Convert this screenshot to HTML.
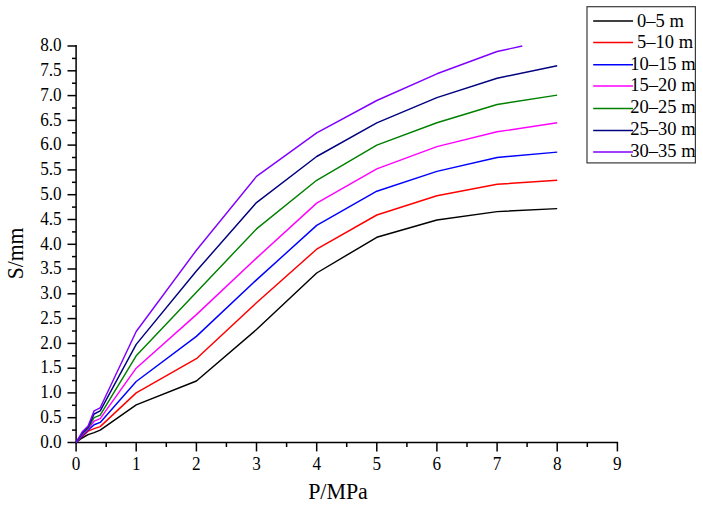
<!DOCTYPE html><html><head><meta charset="utf-8"><style>html,body{margin:0;padding:0;background:#fff;}svg{display:block;}text{font-family:"Liberation Serif",serif;fill:#000;}</style></head><body>
<svg width="703" height="506" viewBox="0 0 703 506">
<rect width="703" height="506" fill="#fff"/>
<g stroke="#000000" stroke-width="1.5" fill="none">
<path d="M76.1 45.1 V443.4"/>
<path d="M75.3 442.5 H618.1"/>
<path d="M67.5 442.5 H76.1"/>
<path d="M72.0 430.1 H76.1"/>
<path d="M67.5 417.7 H76.1"/>
<path d="M72.0 405.3 H76.1"/>
<path d="M67.5 392.9 H76.1"/>
<path d="M72.0 380.6 H76.1"/>
<path d="M67.5 368.2 H76.1"/>
<path d="M72.0 355.8 H76.1"/>
<path d="M67.5 343.4 H76.1"/>
<path d="M72.0 331.0 H76.1"/>
<path d="M67.5 318.6 H76.1"/>
<path d="M72.0 306.2 H76.1"/>
<path d="M67.5 293.8 H76.1"/>
<path d="M72.0 281.4 H76.1"/>
<path d="M67.5 269.0 H76.1"/>
<path d="M72.0 256.6 H76.1"/>
<path d="M67.5 244.3 H76.1"/>
<path d="M72.0 231.9 H76.1"/>
<path d="M67.5 219.5 H76.1"/>
<path d="M72.0 207.1 H76.1"/>
<path d="M67.5 194.7 H76.1"/>
<path d="M72.0 182.3 H76.1"/>
<path d="M67.5 169.9 H76.1"/>
<path d="M72.0 157.5 H76.1"/>
<path d="M67.5 145.1 H76.1"/>
<path d="M72.0 132.8 H76.1"/>
<path d="M67.5 120.4 H76.1"/>
<path d="M72.0 108.0 H76.1"/>
<path d="M67.5 95.6 H76.1"/>
<path d="M72.0 83.2 H76.1"/>
<path d="M67.5 70.8 H76.1"/>
<path d="M72.0 58.4 H76.1"/>
<path d="M67.5 46.0 H76.1"/>
<path d="M76.1 442.5 V451.4"/>
<path d="M106.2 442.5 V447.0"/>
<path d="M136.2 442.5 V451.4"/>
<path d="M166.3 442.5 V447.0"/>
<path d="M196.4 442.5 V451.4"/>
<path d="M226.4 442.5 V447.0"/>
<path d="M256.5 442.5 V451.4"/>
<path d="M286.6 442.5 V447.0"/>
<path d="M316.7 442.5 V451.4"/>
<path d="M346.7 442.5 V447.0"/>
<path d="M376.8 442.5 V451.4"/>
<path d="M406.9 442.5 V447.0"/>
<path d="M436.9 442.5 V451.4"/>
<path d="M467.0 442.5 V447.0"/>
<path d="M497.1 442.5 V451.4"/>
<path d="M527.1 442.5 V447.0"/>
<path d="M557.2 442.5 V451.4"/>
<path d="M587.3 442.5 V447.0"/>
<path d="M617.4 442.5 V451.4"/>
</g>
<g fill="none" stroke-width="1.45" stroke-linejoin="round" stroke-linecap="butt">
<polyline stroke="#000000" points="76.1,442.5 82.1,438.0 88.1,434.6 94.1,432.6 100.2,430.1 136.2,404.8 196.4,381.0 256.5,329.5 316.7,273.0 376.8,237.3 436.9,220.0 497.1,211.6 557.2,208.6"/>
<polyline stroke="#ff0000" points="76.1,442.5 82.1,436.6 88.1,431.1 94.1,428.6 100.2,426.6 136.2,392.9 196.4,358.7 256.5,302.7 316.7,249.2 376.8,215.0 436.9,195.7 497.1,184.3 557.2,180.3"/>
<polyline stroke="#0000ff" points="76.1,442.5 82.1,436.1 88.1,430.1 94.1,424.7 100.2,422.4 136.2,381.5 196.4,336.4 256.5,279.9 316.7,225.4 376.8,191.2 436.9,171.4 497.1,157.5 557.2,152.1"/>
<polyline stroke="#ff00ff" points="76.1,442.5 82.1,435.1 88.1,429.1 94.1,421.2 100.2,418.7 136.2,368.2 196.4,314.6 256.5,258.1 316.7,203.1 376.8,168.9 436.9,146.6 497.1,131.8 557.2,122.8"/>
<polyline stroke="#008000" points="76.1,442.5 82.1,434.1 88.1,428.1 94.1,417.7 100.2,415.2 136.2,355.8 196.4,292.3 256.5,228.9 316.7,180.3 376.8,145.1 436.9,122.8 497.1,104.5 557.2,95.1"/>
<polyline stroke="#000080" points="76.1,442.5 82.1,433.1 88.1,427.1 94.1,414.0 100.2,410.8 136.2,344.4 196.4,271.0 256.5,202.6 316.7,156.5 376.8,122.8 436.9,97.6 497.1,78.2 557.2,65.8"/>
<polyline stroke="#8000ff" points="76.1,442.5 82.1,432.1 88.1,426.1 94.1,410.8 100.2,407.8 136.2,331.5 196.4,250.2 256.5,176.4 316.7,132.8 376.8,100.5 436.9,73.8 497.1,51.5 522.3,46.0"/>
</g>
<g font-size="18" text-anchor="end">
<text transform="translate(61.6 447.7) scale(0.955 1)">0.0</text>
<text transform="translate(61.6 422.9) scale(0.955 1)">0.5</text>
<text transform="translate(61.6 398.1) scale(0.955 1)">1.0</text>
<text transform="translate(61.6 373.4) scale(0.955 1)">1.5</text>
<text transform="translate(61.6 348.6) scale(0.955 1)">2.0</text>
<text transform="translate(61.6 323.8) scale(0.955 1)">2.5</text>
<text transform="translate(61.6 299.0) scale(0.955 1)">3.0</text>
<text transform="translate(61.6 274.2) scale(0.955 1)">3.5</text>
<text transform="translate(61.6 249.5) scale(0.955 1)">4.0</text>
<text transform="translate(61.6 224.7) scale(0.955 1)">4.5</text>
<text transform="translate(61.6 199.9) scale(0.955 1)">5.0</text>
<text transform="translate(61.6 175.1) scale(0.955 1)">5.5</text>
<text transform="translate(61.6 150.3) scale(0.955 1)">6.0</text>
<text transform="translate(61.6 125.6) scale(0.955 1)">6.5</text>
<text transform="translate(61.6 100.8) scale(0.955 1)">7.0</text>
<text transform="translate(61.6 76.0) scale(0.955 1)">7.5</text>
<text transform="translate(61.6 51.2) scale(0.955 1)">8.0</text>
</g>
<g font-size="18" text-anchor="middle">
<text transform="translate(76.1 469.8) scale(0.955 1)">0</text>
<text transform="translate(136.2 469.8) scale(0.955 1)">1</text>
<text transform="translate(196.4 469.8) scale(0.955 1)">2</text>
<text transform="translate(256.5 469.8) scale(0.955 1)">3</text>
<text transform="translate(316.7 469.8) scale(0.955 1)">4</text>
<text transform="translate(376.8 469.8) scale(0.955 1)">5</text>
<text transform="translate(436.9 469.8) scale(0.955 1)">6</text>
<text transform="translate(497.1 469.8) scale(0.955 1)">7</text>
<text transform="translate(557.2 469.8) scale(0.955 1)">8</text>
<text transform="translate(617.4 469.8) scale(0.955 1)">9</text>
</g>
<text font-size="23.6" transform="translate(338 498.5) scale(0.93 1)" text-anchor="middle">P/MPa</text>
<text font-size="23.2" transform="translate(22.8 253.4) rotate(-90) scale(0.93 1)" text-anchor="middle">S/mm</text>
<rect x="587" y="6.7" width="108.4" height="156.2" fill="#fff" stroke="#3a3a3a" stroke-width="1.2"/>
<path d="M593.2 21.00 H633" stroke="#000000" stroke-width="1.5"/>
<text font-size="18.5" x="637.1" y="27.0">0–5 m</text>
<path d="M593.2 42.50 H633" stroke="#ff0000" stroke-width="1.5"/>
<text font-size="18.5" x="637.1" y="48.0">5–10 m</text>
<path d="M593.2 64.70 H633" stroke="#0000ff" stroke-width="1.5"/>
<text font-size="18.5" x="630.3" y="70.0">10–15 m</text>
<path d="M593.2 86.00 H633" stroke="#ff00ff" stroke-width="1.5"/>
<text font-size="18.5" x="630.3" y="91.0">15–20 m</text>
<path d="M593.2 108.40 H633" stroke="#008000" stroke-width="1.5"/>
<text font-size="18.5" x="630.3" y="113.0">20–25 m</text>
<path d="M593.2 130.50 H633" stroke="#000080" stroke-width="1.5"/>
<text font-size="18.5" x="630.3" y="135.0">25–30 m</text>
<path d="M593.2 152.10 H633" stroke="#8000ff" stroke-width="1.5"/>
<text font-size="18.5" x="630.3" y="157.0">30–35 m</text>
</svg></body></html>
